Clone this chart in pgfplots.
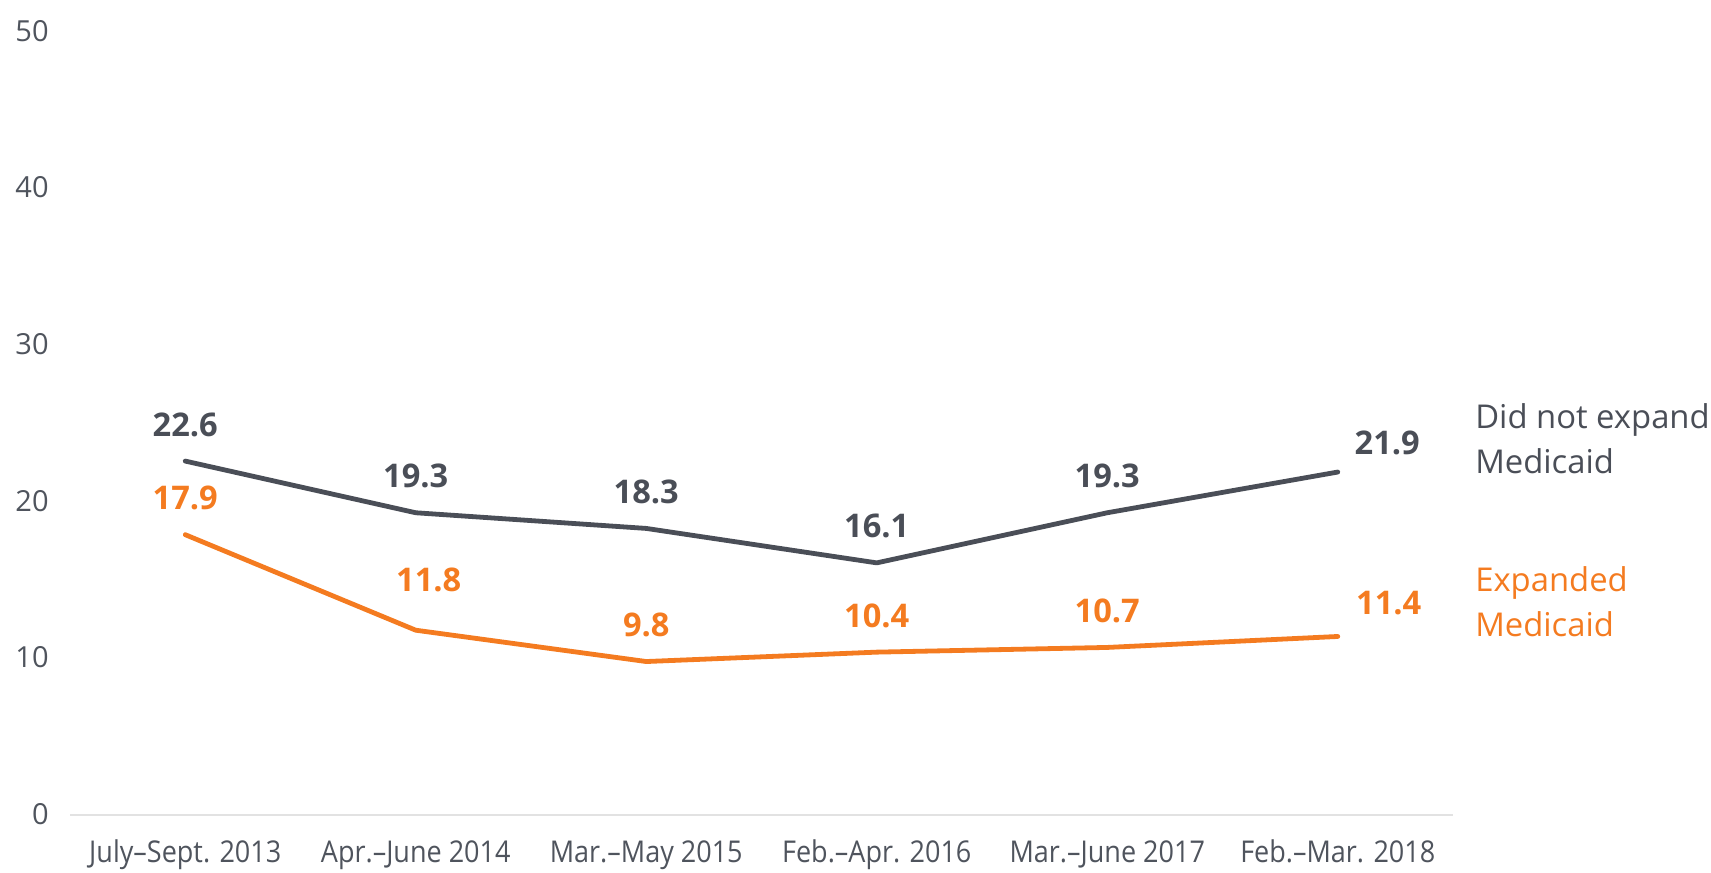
\documentclass[border=0pt]{standalone}
\usepackage{pgfplots}
\pgfplotsset{compat=1.18}
\usepackage{fontspec}
\setmainfont{Open Sans}
\newfontfamily\tickfont[FakeStretch=0.9,Ligatures=TeX]{Open Sans}
\definecolor{darkline}{HTML}{4A4E57}
\definecolor{orangeline}{HTML}{F47B20}
\definecolor{textgray}{HTML}{4F545D}
\definecolor{gridgray}{HTML}{E2E2E2}
\begin{document}
\begin{tikzpicture}
\useasboundingbox (-35pt,-28.5pt) rectangle (820.5pt,407.5pt);
\begin{axis}[
  at={(0,0)}, anchor=south west,
  scale only axis, width=691.5pt, height=391.5pt,
  xmin=-0.5, xmax=5.5, ymin=0, ymax=50,
  clip=false,
  /pgf/number format/assume math mode=true,
  axis line style={draw=none},
  tick style={draw=none},
  ytick={0,10,20,30,40,50},
  extra y ticks={0}, extra y tick labels={},
  extra y tick style={ymajorgrids=true, major grid style={color=gridgray, line width=1pt}},
  xtick={0,1,2,3,4,5},
  xticklabels={July–Sept. 2013, Apr.–June 2014, Mar.–May 2015, Feb.–Apr. 2016, Mar.–June 2017, Feb.–Mar. 2018},
  yticklabel style={font=\fontsize{14.5}{16}\selectfont, text=textgray, anchor=east, inner sep=0pt, xshift=-10.5pt, yshift=0.5pt},
  xticklabel style={font=\tickfont\fontsize{15}{17}\selectfont, text=textgray, anchor=base, inner sep=0pt, yshift=-23.5pt},
  nodes near coords={\pgfmathprintnumber[fixed,precision=1,fixed zerofill]{\pgfplotspointmeta}},
  point meta=y,
]
% lines
\addplot[draw=darkline, line width=2.4pt, line cap=round, line join=round, mark=none, nodes near coords={}]
  coordinates {(0,22.6) (1,19.3) (2,18.3) (3,16.1) (4,19.3) (5,21.9)};
\addplot[draw=orangeline, line width=2.4pt, line cap=round, line join=round, mark=none, nodes near coords={}]
  coordinates {(0,17.9) (1,11.8) (2,9.8) (3,10.4) (4,10.7) (5,11.4)};
% labels: did not expand
\addplot[draw=none, mark=none, every node near coord/.style={anchor=center, yshift=18.25pt, font=\fontsize{16.3}{18}\selectfont\bfseries, text=darkline}]
  coordinates {(0,22.6) (1,19.3) (2,18.3) (3,16.1) (4,19.3)};
\addplot[draw=none, mark=none, every node near coord/.style={anchor=center, xshift=24.75pt, yshift=14.5pt, font=\fontsize{16.3}{18}\selectfont\bfseries, text=darkline}]
  coordinates {(5,21.9)};
% labels: expanded
\addplot[draw=none, mark=none, every node near coord/.style={anchor=center, yshift=18.25pt, font=\fontsize{16.3}{18}\selectfont\bfseries, text=orangeline}]
  coordinates {(0,17.9) (2,9.8) (3,10.4) (4,10.7)};
\addplot[draw=none, mark=none, every node near coord/.style={anchor=center, xshift=6.5pt, yshift=25pt, font=\fontsize{16.3}{18}\selectfont\bfseries, text=orangeline}]
  coordinates {(1,11.8)};
\addplot[draw=none, mark=none, every node near coord/.style={anchor=center, xshift=25.5pt, yshift=16.75pt, font=\fontsize{16.3}{18}\selectfont\bfseries, text=orangeline}]
  coordinates {(5,11.4)};
% series names
\node[anchor=base west, inner sep=0pt, font=\fontsize{16.4}{19}\selectfont, text=darkline] at (axis cs:5.595,24.69) {Did not expand};
\node[anchor=base west, inner sep=0pt, font=\fontsize{16.4}{19}\selectfont, text=darkline] at (axis cs:5.595,21.82) {Medicaid};
\node[anchor=base west, inner sep=0pt, font=\fontsize{16.4}{19}\selectfont, text=orangeline] at (axis cs:5.595,14.26) {Expanded};
\node[anchor=base west, inner sep=0pt, font=\fontsize{16.4}{19}\selectfont, text=orangeline] at (axis cs:5.595,11.39) {Medicaid};
\end{axis}
\end{tikzpicture}
\end{document}
